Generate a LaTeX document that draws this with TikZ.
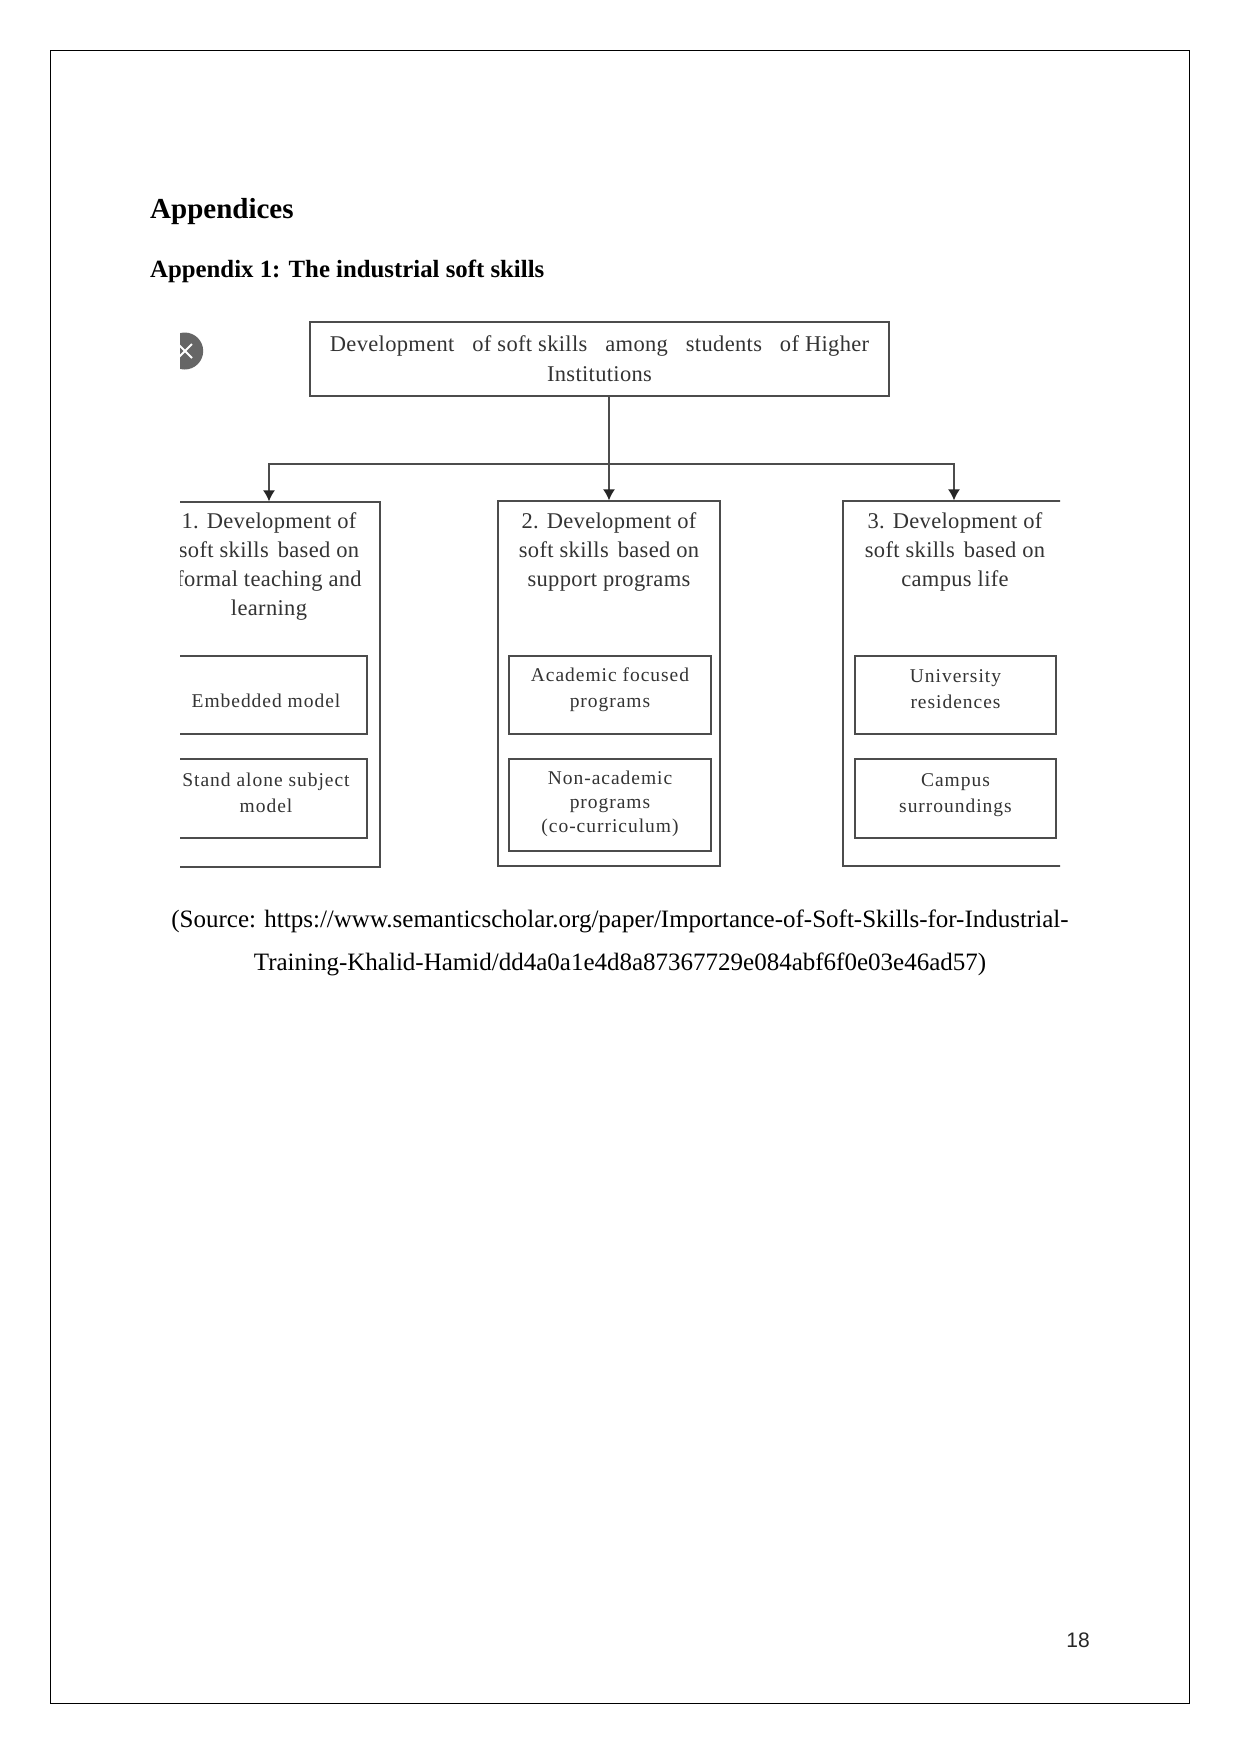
\documentclass[tikz,border=0pt]{standalone}
\usepackage{fontspec}
\setmainfont{Liberation Serif}
\newfontfamily\figfont[LetterSpace=1.5]{Liberation Serif}
\newfontfamily\smallfig[LetterSpace=5]{Liberation Serif}
\newfontfamily\numfont{Liberation Sans}
\usetikzlibrary{arrows.meta}
\definecolor{ink}{gray}{0.3}
\definecolor{txt}{gray}{0.2}
\tikzset{
  x=1pt,y=-1pt,
  box/.style={draw=ink,line width=1.3pt,fill=white,inner sep=0pt},
  conn/.style={draw=ink,line width=1.3pt},
  arr/.style={conn,-{Latex[length=11pt,width=12pt,color=black!85]}},
  biglab/.style={font=\fontsize{22.5}{29}\selectfont\figfont,text=txt,align=center,inner sep=0pt},
  smalllab/.style={font=\fontsize{19.5}{26}\selectfont\smallfig,text=txt,align=center,inner sep=0pt},
  sourcelab/.style={font=\fontsize{25}{43}\selectfont,align=center,inner sep=0pt,text=black},
}
\begin{document}
\begin{tikzpicture}
\useasboundingbox (0,0) rectangle (1241,1754);
\fill[white] (0,0) rectangle (1241,1754);
\draw[black,line width=1pt] (50.5,50.5) rectangle (1189.5,1703.5);

\node[anchor=west,inner sep=0pt,font=\fontsize{29}{34}\selectfont\bfseries] (head) at (150,212) {Appendices};
\node[anchor=west,inner sep=0pt,font=\fontsize{24.8}{30}\selectfont\bfseries] (sub) at (150,271) {Appendix 1: The industrial soft skills};

\begin{scope}
\clip (180,310) rectangle (1060,880);
\fill[black!60] (184.7,351) circle (18.5);
\draw[white,line width=1.8pt] (178,344) -- (192,358) (192,344) -- (178,358);

\node[box,minimum width=579pt,minimum height=74pt] (top) at (599.5,359) {};
\node[box,minimum width=222pt,minimum height=365pt] (one) at (269,684.5) {};
\node[box,minimum width=222pt,minimum height=365pt] (two) at (609,683.5) {};
\node[box,minimum width=222pt,minimum height=365pt] (three) at (954,683.5) {};

\node[box,minimum width=202pt,minimum height=78pt] (onea) at (266,695) {};
\node[box,minimum width=202pt,minimum height=79pt] (oneb) at (266,798.5) {};
\node[box,minimum width=202pt,minimum height=78pt] (twoa) at (610,695) {};
\node[box,minimum width=202pt,minimum height=92pt] (twob) at (610,805) {};
\node[box,minimum width=201pt,minimum height=78pt] (threea) at (955.5,695) {};
\node[box,minimum width=201pt,minimum height=79pt] (threeb) at (955.5,798.5) {};

\coordinate (bus) at (two.north |- 0,464);
\draw[arr] (top.south -| two.north) -- (two.north);
\draw[arr] (bus) -| (one.north);
\draw[arr] (bus) -| (three.north);

\node[biglab,font=\fontsize{22.5}{30}\selectfont\figfont] (toptext) at (599.5,358.5) {Development\hspace{12pt} of soft skills\hspace{12pt} among\hspace{12pt} students\hspace{12pt} of Higher\\Institutions};
\node[biglab] (onetext) at (269,566.5) {1. Development of\\soft skills\hspace{3pt} based on\\formal teaching and\\learning};
\node[biglab] (twotext) at (609,551.5) {2. Development of\\soft skills\hspace{3pt} based on\\support programs};
\node[biglab] (threetext) at (955,551.5) {3. Development of\\soft skills\hspace{3pt} based on\\campus life};

\node[smalllab] (oneatext) at (266,700.5) {Embedded model};
\node[smalllab] (onebtext) at (266,792.5) {Stand alone subject\\model};
\node[smalllab] (twoatext) at (610,690) {Academic focused\\programs};
\node[smalllab,font=\fontsize{19.5}{24}\selectfont\smallfig] (twobtext) at (610,804) {Non-academic\\programs\\(co-curriculum)};
\node[smalllab] (threeatext) at (955.5,689) {University\\residences};
\node[smalllab] (threebtext) at (955.5,795.5) {Campus\\surroundings};
\end{scope}

\node[sourcelab] (source) at (620,943) {(Source: https://www.semanticscholar.org/paper/Importance-of-Soft-Skills-for-Industrial-\\Training-Khalid-Hamid/dd4a0a1e4d8a87367729e084abf6f0e03e46ad57)};
\node[inner sep=0pt,font=\fontsize{21}{25}\selectfont\numfont,text=black!85] (page) at (1078,1640) {18};
\end{tikzpicture}
\end{document}
